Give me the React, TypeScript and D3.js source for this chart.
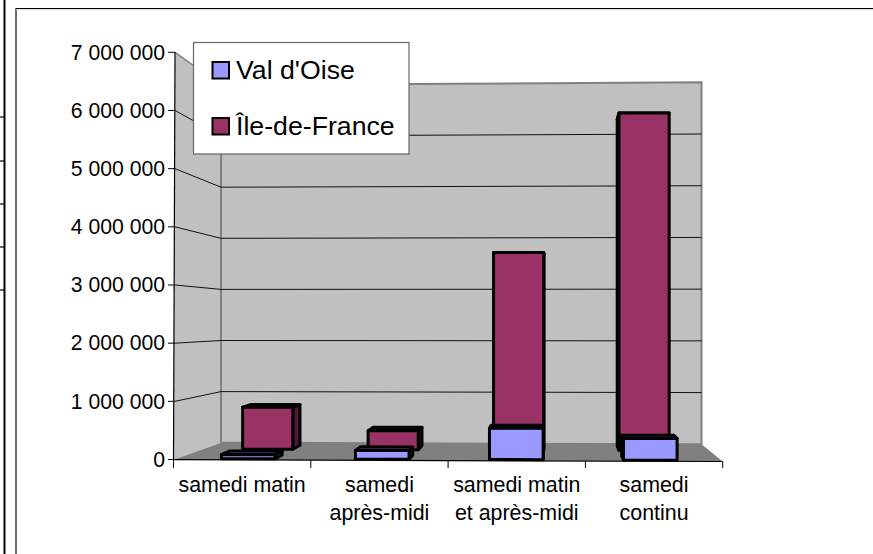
import React from "react";
import * as d3 from "d3";

const categories = [["samedi matin"], ["samedi", "après-midi"], ["samedi matin", "et après-midi"], ["samedi", "continu"]];
const valDOise = [70000, 150000, 540000, 370000];
const ileDeFrance = [780000, 350000, 3650000, 6220000];
const yTicks = [0, 1000000, 2000000, 3000000, 4000000, 5000000, 6000000, 7000000];
const yLabels = ["0", "1 000 000", "2 000 000", "3 000 000", "4 000 000", "5 000 000", "6 000 000", "7 000 000"];
const sideTicks = [117, 161, 204, 247, 290];

const MAROON = "#993366";
const BLUE = "#9999ff";
const W = 873, H = 554;

// projection of the 3D box: u = category position 0..4, d = depth 0..1, v = value
const uT = d3.scaleLinear().domain([0, 4]).range([0, 1]);
const leftBaseX = d3.scaleLinear().domain([0, 1]).range([173.5, 221]);
const rightBaseX = d3.scaleLinear().domain([0, 1]).range([722.7, 701.5]);
const yDepth = d3.scaleLinear().domain([0, 0.19, 0.69, 1]).range([0, 0.07, 0.63, 1]);
const frontBase = d3.scaleLinear().domain([0, 1]).range([459.7, 461.5]);
const backBase = d3.scaleLinear().domain([0, 1]).range([442.7, 444.3]);
const frontTop = d3.scaleLinear().domain([0, 1]).range([52.3, 50]);
const backTop = d3.scaleLinear().domain([0, 1]).range([85, 82.3]);
const vT = d3.scaleLinear().domain([0, 7000000]).range([0, 1]);

function P(u: number, d: number, v: number): [number, number] {
  const t = uT(u);
  const x = d3.interpolateNumber(leftBaseX(d), rightBaseX(d))(t);
  const dy = yDepth(d);
  const base = d3.interpolateNumber(frontBase(t), backBase(t))(dy);
  const top = d3.interpolateNumber(frontTop(t), backTop(t))(dy);
  return [x, d3.interpolateNumber(base, top)(vT(v))];
}
const poly = (pts: [number, number][]) => d3.line()(pts)! + "Z";
const axisY = d3.scaleLinear().domain([0, 7000000]).range([459.5, 52.3]);

function Bar({ i, v, d0, d1, fill, side, top }: { i: number; v: number; d0: number; d1: number; fill: string; side: string; top: string }) {
  const u0 = i + 0.29, u1 = i + 0.69;
  const sw = 3;
  const common = { stroke: "#000", strokeWidth: sw, strokeLinejoin: "round" as const };
  const rightVisible = P(u1, d1, 0)[0] > P(u1, d0, 0)[0];
  const su = rightVisible ? u1 : u0;
  return (
    <g>
      <path d={poly([P(su, d0, 0), P(su, d1, 0), P(su, d1, v), P(su, d0, v)])} fill={side} {...common} />
      <path d={poly([P(u0, d0, v), P(u1, d0, v), P(u1, d1, v), P(u0, d1, v)])} fill={top} {...common} />
      <path d={poly([P(u0, d0, 0), P(u1, d0, 0), P(u1, d0, v), P(u0, d0, v)])} fill={fill} {...common} />
    </g>
  );
}

export default function App() {
  const font = "'Liberation Sans', Arial, sans-serif";
  const gridV = yTicks.slice(1, 7);
  const catX = d3.scaleLinear().domain([0, 4]).range([173.5, 722.7]);
  return (
    <svg width={W} height={H} style={{ position: "absolute", left: 0, top: 0, background: "#fff" }} fontFamily={font}>
      {/* page fragments around the chart */}
      <line x1={4.5} x2={4.5} y1={0} y2={H} stroke="#000" strokeWidth={2} />
      {sideTicks.map((y) => <line key={y} x1={0} x2={5} y1={y} y2={y} stroke="#000" strokeWidth={1.2} />)}
      <line x1={16} x2={16} y1={8} y2={H} stroke="#444" strokeWidth={1.6} />
      <line x1={16} x2={W} y1={8.5} y2={8.5} stroke="#000" strokeWidth={1.2} />
      <line x1={16} x2={W} y1={9.5} y2={9.5} stroke="#ddd" strokeWidth={1} />

      {/* walls and floor */}
      <path d={poly([P(0, 0, 7000000).map((n, k) => (k === 0 ? 175 : n)) as [number, number], P(0, 1, 7000000), P(0, 1, 0), P(0, 0, 0)])} fill="#c0c0c0" />
      <path d={poly([P(0, 1, 7000000), P(4, 1, 7000000), P(4, 1, 0), P(0, 1, 0)])} fill="#c0c0c0" stroke="#808080" strokeWidth={2} />
      <line x1={175} y1={52.3} x2={P(0, 1, 7000000)[0]} y2={P(0, 1, 7000000)[1]} stroke="#808080" strokeWidth={1.5} />
      <path d={poly([P(0, 0, 0), P(4, 0, 0), P(4, 1, 0), P(0, 1, 0)])} fill="#808080" />

      {/* gridlines */}
      {gridV.map((v) => (
        <g key={v} fill="none" stroke="#111" strokeWidth={1}>
          <line x1={175} y1={axisY(v)} x2={P(0, 1, v)[0]} y2={P(0, 1, v)[1]} />
          <line x1={P(0, 1, v)[0]} y1={P(0, 1, v)[1]} x2={P(4, 1, v)[0]} y2={P(4, 1, v)[1]} />
        </g>
      ))}

      {/* back row, then front row */}
      {ileDeFrance.map((v, i) => (
        <Bar key={i} i={i} v={v} d0={0.69} d1={0.89} fill={MAROON} side="#4d1a33" top="#4d1a33" />
      ))}
      {valDOise.map((v, i) => (
        <Bar key={i} i={i} v={v} d0={0.19} d1={0.39} fill={BLUE} side="#4d4d80" top="#4d4d80" />
      ))}

      {/* axes */}
      <line x1={175} y1={52.3} x2={173.5} y2={459.7} stroke="#000" strokeWidth={1.2} />
      <line x1={173.5} y1={459.7} x2={722.7} y2={461.5} stroke="#000" strokeWidth={1.2} />
      {yTicks.map((v, i) => (
        <g key={v}>
          <line x1={168} x2={175} y1={axisY(v)} y2={axisY(v)} stroke="#000" strokeWidth={1} />
          <text x={165} y={axisY(v) + 7.3} textAnchor="end" fontSize={21.2} fill="#000">{yLabels[i]}</text>
        </g>
      ))}
      {d3.range(5).map((i) => (
        <line key={i} x1={catX(i)} x2={catX(i)} y1={frontBase(uT(i))} y2={468} stroke="#000" strokeWidth={1} />
      ))}
      {categories.map((lines, i) => (
        <text key={i} textAnchor="middle" fontSize={21.4} fill="#000">
          {lines.map((l, k) => <tspan key={k} x={catX(i + 0.5)} y={492 + k * 27.5}>{l}</tspan>)}
        </text>
      ))}

      {/* legend */}
      <rect x={193.5} y={42.5} width={215.5} height={111.5} fill="#fff" stroke="#666" strokeWidth={1.2} />
      <rect x={212.5} y={62} width={16.5} height={16.5} fill={BLUE} stroke="#000" strokeWidth={2} />
      <rect x={212.5} y={118} width={16.5} height={16.5} fill={MAROON} stroke="#000" strokeWidth={2} />
      <text x={236} y={79} fontSize={26.7} fill="#000">Val d'Oise</text>
      <text x={236} y={135} fontSize={26.7} fill="#000">Île-de-France</text>
    </svg>
  );
}
